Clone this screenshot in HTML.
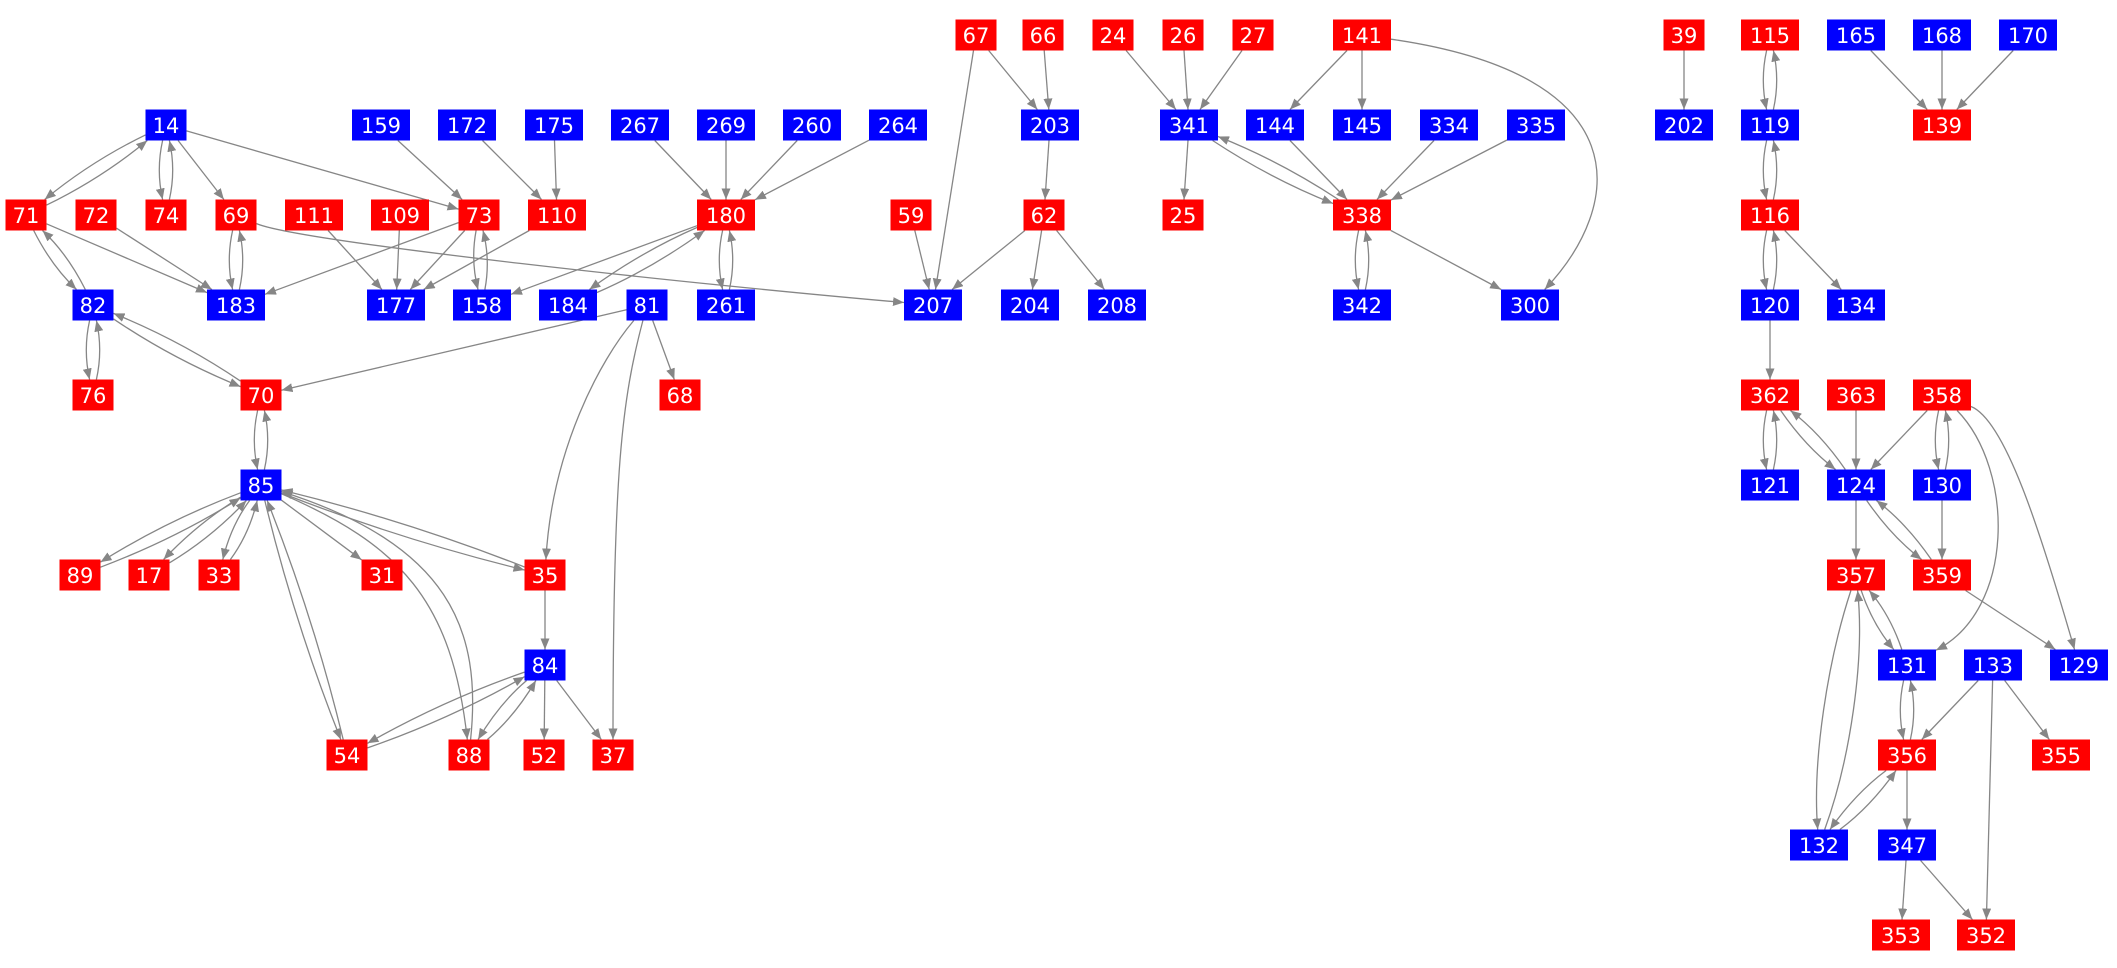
<!DOCTYPE html>
<html><head><meta charset="utf-8">
<style>
html,body{margin:0;padding:0;background:#fff;}
svg{display:block;}
text{font-family:"DejaVu Sans","Liberation Sans",sans-serif;font-size:21px;fill:#fff;text-anchor:middle;}
.r rect{fill:#ff0000;}
.b rect{fill:#0000ff;}
#edges path{fill:none;stroke:#868686;stroke-width:1.3;}
</style></head>
<body>
<svg id="s" width="2117" height="968" viewBox="0 0 2117 968" xmlns="http://www.w3.org/2000/svg">
<defs><marker id="ah" markerWidth="11" markerHeight="9" refX="11" refY="4.5" orient="auto" markerUnits="userSpaceOnUse"><path d="M0,0 L11,4.5 L0,9 z" fill="#868686"/></marker></defs>
<g id="edges"></g>
<g id="nodes">
<g class="r" transform="translate(976,35)"><rect x="-20.5" y="-15.5" width="41" height="31"/><text y="8">67</text></g>
<g class="r" transform="translate(1043,35)"><rect x="-20.5" y="-15.5" width="41" height="31"/><text y="8">66</text></g>
<g class="r" transform="translate(1113,35)"><rect x="-20.5" y="-15.5" width="41" height="31"/><text y="8">24</text></g>
<g class="r" transform="translate(1183,35)"><rect x="-20.5" y="-15.5" width="41" height="31"/><text y="8">26</text></g>
<g class="r" transform="translate(1253,35)"><rect x="-20.5" y="-15.5" width="41" height="31"/><text y="8">27</text></g>
<g class="r" transform="translate(1362,35)"><rect x="-29" y="-15.5" width="58" height="31"/><text y="8">141</text></g>
<g class="r" transform="translate(1684,35)"><rect x="-20.5" y="-15.5" width="41" height="31"/><text y="8">39</text></g>
<g class="r" transform="translate(1770,35)"><rect x="-29" y="-15.5" width="58" height="31"/><text y="8">115</text></g>
<g class="b" transform="translate(1856,35)"><rect x="-29" y="-15.5" width="58" height="31"/><text y="8">165</text></g>
<g class="b" transform="translate(1942,35)"><rect x="-29" y="-15.5" width="58" height="31"/><text y="8">168</text></g>
<g class="b" transform="translate(2028,35)"><rect x="-29" y="-15.5" width="58" height="31"/><text y="8">170</text></g>
<g class="b" transform="translate(166,125)"><rect x="-20.5" y="-15.5" width="41" height="31"/><text y="8">14</text></g>
<g class="b" transform="translate(381,125)"><rect x="-29" y="-15.5" width="58" height="31"/><text y="8">159</text></g>
<g class="b" transform="translate(467,125)"><rect x="-29" y="-15.5" width="58" height="31"/><text y="8">172</text></g>
<g class="b" transform="translate(554,125)"><rect x="-29" y="-15.5" width="58" height="31"/><text y="8">175</text></g>
<g class="b" transform="translate(640,125)"><rect x="-29" y="-15.5" width="58" height="31"/><text y="8">267</text></g>
<g class="b" transform="translate(726,125)"><rect x="-29" y="-15.5" width="58" height="31"/><text y="8">269</text></g>
<g class="b" transform="translate(812,125)"><rect x="-29" y="-15.5" width="58" height="31"/><text y="8">260</text></g>
<g class="b" transform="translate(898,125)"><rect x="-29" y="-15.5" width="58" height="31"/><text y="8">264</text></g>
<g class="b" transform="translate(1050,125)"><rect x="-29" y="-15.5" width="58" height="31"/><text y="8">203</text></g>
<g class="b" transform="translate(1189,125)"><rect x="-29" y="-15.5" width="58" height="31"/><text y="8">341</text></g>
<g class="b" transform="translate(1275,125)"><rect x="-29" y="-15.5" width="58" height="31"/><text y="8">144</text></g>
<g class="b" transform="translate(1362,125)"><rect x="-29" y="-15.5" width="58" height="31"/><text y="8">145</text></g>
<g class="b" transform="translate(1449,125)"><rect x="-29" y="-15.5" width="58" height="31"/><text y="8">334</text></g>
<g class="b" transform="translate(1536,125)"><rect x="-29" y="-15.5" width="58" height="31"/><text y="8">335</text></g>
<g class="b" transform="translate(1684,125)"><rect x="-29" y="-15.5" width="58" height="31"/><text y="8">202</text></g>
<g class="b" transform="translate(1770,125)"><rect x="-29" y="-15.5" width="58" height="31"/><text y="8">119</text></g>
<g class="r" transform="translate(1942,125)"><rect x="-29" y="-15.5" width="58" height="31"/><text y="8">139</text></g>
<g class="r" transform="translate(26,215)"><rect x="-20.5" y="-15.5" width="41" height="31"/><text y="8">71</text></g>
<g class="r" transform="translate(96,215)"><rect x="-20.5" y="-15.5" width="41" height="31"/><text y="8">72</text></g>
<g class="r" transform="translate(166,215)"><rect x="-20.5" y="-15.5" width="41" height="31"/><text y="8">74</text></g>
<g class="r" transform="translate(236,215)"><rect x="-20.5" y="-15.5" width="41" height="31"/><text y="8">69</text></g>
<g class="r" transform="translate(314,215)"><rect x="-29" y="-15.5" width="58" height="31"/><text y="8">111</text></g>
<g class="r" transform="translate(400,215)"><rect x="-29" y="-15.5" width="58" height="31"/><text y="8">109</text></g>
<g class="r" transform="translate(479,215)"><rect x="-20.5" y="-15.5" width="41" height="31"/><text y="8">73</text></g>
<g class="r" transform="translate(557,215)"><rect x="-29" y="-15.5" width="58" height="31"/><text y="8">110</text></g>
<g class="r" transform="translate(726,215)"><rect x="-29" y="-15.5" width="58" height="31"/><text y="8">180</text></g>
<g class="r" transform="translate(911,215)"><rect x="-20.5" y="-15.5" width="41" height="31"/><text y="8">59</text></g>
<g class="r" transform="translate(1044,215)"><rect x="-20.5" y="-15.5" width="41" height="31"/><text y="8">62</text></g>
<g class="r" transform="translate(1183,215)"><rect x="-20.5" y="-15.5" width="41" height="31"/><text y="8">25</text></g>
<g class="r" transform="translate(1362,215)"><rect x="-29" y="-15.5" width="58" height="31"/><text y="8">338</text></g>
<g class="r" transform="translate(1770,215)"><rect x="-29" y="-15.5" width="58" height="31"/><text y="8">116</text></g>
<g class="b" transform="translate(93,305)"><rect x="-20.5" y="-15.5" width="41" height="31"/><text y="8">82</text></g>
<g class="b" transform="translate(236,305)"><rect x="-29" y="-15.5" width="58" height="31"/><text y="8">183</text></g>
<g class="b" transform="translate(396,305)"><rect x="-29" y="-15.5" width="58" height="31"/><text y="8">177</text></g>
<g class="b" transform="translate(482,305)"><rect x="-29" y="-15.5" width="58" height="31"/><text y="8">158</text></g>
<g class="b" transform="translate(568,305)"><rect x="-29" y="-15.5" width="58" height="31"/><text y="8">184</text></g>
<g class="b" transform="translate(647,305)"><rect x="-20.5" y="-15.5" width="41" height="31"/><text y="8">81</text></g>
<g class="b" transform="translate(726,305)"><rect x="-29" y="-15.5" width="58" height="31"/><text y="8">261</text></g>
<g class="b" transform="translate(933,305)"><rect x="-29" y="-15.5" width="58" height="31"/><text y="8">207</text></g>
<g class="b" transform="translate(1030,305)"><rect x="-29" y="-15.5" width="58" height="31"/><text y="8">204</text></g>
<g class="b" transform="translate(1117,305)"><rect x="-29" y="-15.5" width="58" height="31"/><text y="8">208</text></g>
<g class="b" transform="translate(1362,305)"><rect x="-29" y="-15.5" width="58" height="31"/><text y="8">342</text></g>
<g class="b" transform="translate(1530,305)"><rect x="-29" y="-15.5" width="58" height="31"/><text y="8">300</text></g>
<g class="b" transform="translate(1770,305)"><rect x="-29" y="-15.5" width="58" height="31"/><text y="8">120</text></g>
<g class="b" transform="translate(1856,305)"><rect x="-29" y="-15.5" width="58" height="31"/><text y="8">134</text></g>
<g class="r" transform="translate(93,395)"><rect x="-20.5" y="-15.5" width="41" height="31"/><text y="8">76</text></g>
<g class="r" transform="translate(261,395)"><rect x="-20.5" y="-15.5" width="41" height="31"/><text y="8">70</text></g>
<g class="r" transform="translate(680,395)"><rect x="-20.5" y="-15.5" width="41" height="31"/><text y="8">68</text></g>
<g class="r" transform="translate(1770,395)"><rect x="-29" y="-15.5" width="58" height="31"/><text y="8">362</text></g>
<g class="r" transform="translate(1856,395)"><rect x="-29" y="-15.5" width="58" height="31"/><text y="8">363</text></g>
<g class="r" transform="translate(1942,395)"><rect x="-29" y="-15.5" width="58" height="31"/><text y="8">358</text></g>
<g class="b" transform="translate(261,485)"><rect x="-20.5" y="-15.5" width="41" height="31"/><text y="8">85</text></g>
<g class="b" transform="translate(1770,485)"><rect x="-29" y="-15.5" width="58" height="31"/><text y="8">121</text></g>
<g class="b" transform="translate(1856,485)"><rect x="-29" y="-15.5" width="58" height="31"/><text y="8">124</text></g>
<g class="b" transform="translate(1942,485)"><rect x="-29" y="-15.5" width="58" height="31"/><text y="8">130</text></g>
<g class="r" transform="translate(80,575)"><rect x="-20.5" y="-15.5" width="41" height="31"/><text y="8">89</text></g>
<g class="r" transform="translate(149,575)"><rect x="-20.5" y="-15.5" width="41" height="31"/><text y="8">17</text></g>
<g class="r" transform="translate(219,575)"><rect x="-20.5" y="-15.5" width="41" height="31"/><text y="8">33</text></g>
<g class="r" transform="translate(382,575)"><rect x="-20.5" y="-15.5" width="41" height="31"/><text y="8">31</text></g>
<g class="r" transform="translate(545,575)"><rect x="-20.5" y="-15.5" width="41" height="31"/><text y="8">35</text></g>
<g class="r" transform="translate(1856,575)"><rect x="-29" y="-15.5" width="58" height="31"/><text y="8">357</text></g>
<g class="r" transform="translate(1942,575)"><rect x="-29" y="-15.5" width="58" height="31"/><text y="8">359</text></g>
<g class="b" transform="translate(545,665)"><rect x="-20.5" y="-15.5" width="41" height="31"/><text y="8">84</text></g>
<g class="b" transform="translate(1907,665)"><rect x="-29" y="-15.5" width="58" height="31"/><text y="8">131</text></g>
<g class="b" transform="translate(1993,665)"><rect x="-29" y="-15.5" width="58" height="31"/><text y="8">133</text></g>
<g class="b" transform="translate(2079,665)"><rect x="-29" y="-15.5" width="58" height="31"/><text y="8">129</text></g>
<g class="r" transform="translate(347,755)"><rect x="-20.5" y="-15.5" width="41" height="31"/><text y="8">54</text></g>
<g class="r" transform="translate(469,755)"><rect x="-20.5" y="-15.5" width="41" height="31"/><text y="8">88</text></g>
<g class="r" transform="translate(544,755)"><rect x="-20.5" y="-15.5" width="41" height="31"/><text y="8">52</text></g>
<g class="r" transform="translate(613,755)"><rect x="-20.5" y="-15.5" width="41" height="31"/><text y="8">37</text></g>
<g class="r" transform="translate(1907,755)"><rect x="-29" y="-15.5" width="58" height="31"/><text y="8">356</text></g>
<g class="r" transform="translate(2061,755)"><rect x="-29" y="-15.5" width="58" height="31"/><text y="8">355</text></g>
<g class="b" transform="translate(1819,845)"><rect x="-29" y="-15.5" width="58" height="31"/><text y="8">132</text></g>
<g class="b" transform="translate(1907,845)"><rect x="-29" y="-15.5" width="58" height="31"/><text y="8">347</text></g>
<g class="r" transform="translate(1901,935)"><rect x="-29" y="-15.5" width="58" height="31"/><text y="8">353</text></g>
<g class="r" transform="translate(1986,935)"><rect x="-29" y="-15.5" width="58" height="31"/><text y="8">352</text></g>
</g>
</svg>
<script>
(function(){
var N={};
var gs=document.querySelectorAll('#nodes g');
for(var i=0;i<gs.length;i++){
  var g=gs[i];var m=/translate\(([\d.]+),([\d.]+)\)/.exec(g.getAttribute('transform'));
  var id=g.querySelector('text').textContent;
  var w=parseFloat(g.querySelector('rect').getAttribute('width'));
  N[id]=[parseFloat(m[1]),parseFloat(m[2]),w,31];
}
var E="14-71 71-14 14-74 74-14 14-69 14-73 159-73 172-110 175-110 267-180 269-180 260-180 264-180 "+
"71-82 82-71 71-183 72-183 69-183 183-69 69-207 111-177 109-177 73-183 73-177 73-158 158-73 110-177 "+
"180-158 180-184 184-180 180-261 261-180 82-76 76-82 82-70 70-82 81-70 81-35 81-37 81-68 70-85 85-70 "+
"85-89 89-85 85-17 17-85 85-33 33-85 85-31 85-35 35-85 85-88 88-85 85-54 54-85 35-84 84-54 54-84 84-88 88-84 84-52 84-37 "+
"67-203 67-207 66-203 203-62 59-207 62-207 62-204 62-208 24-341 26-341 27-341 141-144 141-145 141-300 341-25 341-338 338-341 "+
"144-338 334-338 335-338 338-342 342-338 338-300 39-202 115-119 119-115 119-116 116-119 116-120 120-116 116-134 165-139 168-139 170-139 "+
"120-362 362-121 121-362 362-124 124-362 363-124 358-124 358-130 130-358 358-131 358-129 124-357 124-359 359-124 130-359 359-129 "+
"357-131 131-357 357-132 132-357 131-356 356-131 133-356 133-355 133-352 356-132 132-356 356-347 347-353 347-352";
var C={
"69-207":[[300,242],[700,285]],
"81-35":[[600,360],[552,450]],
"81-37":[[622,400],[613,470]],
"85-88":[[400,545],[452,600]],
"88-85":[[482,630],[450,545]],
"141-300":[[1640,75],[1625,205]],
"358-131":[[2015,470],[2015,610]],
"358-129":[[2005,420],[2040,530]],
"357-132":[[1828,660],[1812,760]],
"132-357":[[1850,760],[1865,660]]
};
var list=E.split(/\s+/);var set={};list.forEach(function(e){set[e]=1;});
function clip(n,tx,ty){var cx=n[0],cy=n[1],dx=tx-cx,dy=ty-cy;
  var t=Math.min(Math.abs(dx)>1e-6?(n[2]/2)/Math.abs(dx):1e9,Math.abs(dy)>1e-6?(n[3]/2)/Math.abs(dy):1e9);
  return [cx+dx*t,cy+dy*t];}
var out='';
list.forEach(function(e){
  var p=e.split('-');var a=N[p[0]],b=N[p[1]];if(!a||!b)return;
  var d;
  if(C[e]){var c1=C[e][0],c2=C[e][1];var s=clip(a,c1[0],c1[1]),t=clip(b,c2[0],c2[1]);
    d='M'+s[0].toFixed(1)+','+s[1].toFixed(1)+' C'+c1[0]+','+c1[1]+' '+c2[0]+','+c2[1]+' '+t[0].toFixed(1)+','+t[1].toFixed(1);}
  else{
    var bend=set[p[1]+'-'+p[0]]?5:0;
    var dx=b[0]-a[0],dy=b[1]-a[1],L=Math.sqrt(dx*dx+dy*dy);
    var mx=(a[0]+b[0])/2-dy/L*bend*2,my=(a[1]+b[1])/2+dx/L*bend*2;
    var s=clip(a,mx,my),t=clip(b,mx,my);
    d='M'+s[0].toFixed(1)+','+s[1].toFixed(1)+' Q'+mx.toFixed(1)+','+my.toFixed(1)+' '+t[0].toFixed(1)+','+t[1].toFixed(1);
  }
  out+='<path d="'+d+'" marker-end="url(#ah)"/>';
});
document.getElementById('edges').innerHTML=out;
})();
</script>
</body></html>
